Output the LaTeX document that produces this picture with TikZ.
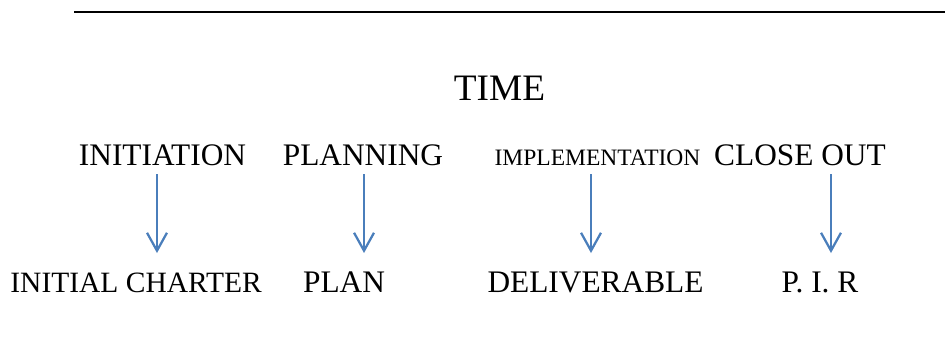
\documentclass[tikz,border=0pt]{standalone}
\usepackage{fontspec}
\setmainfont{Liberation Serif}
\usetikzlibrary{arrows.meta}
\definecolor{pfeilblau}{RGB}{74,126,187}
\tikzset{
	phase/.style={anchor=base, inner sep=0pt, font=\fontsize{23.6}{28}\selectfont},
	klein/.style={anchor=base, inner sep=0pt, font=\fontsize{17.7}{21}\selectfont},
	pfeil/.style={draw=pfeilblau, line width=1.7pt,
		-{Straight Barb[length=13.5pt, width=15pt, line width=1.7pt]}}
}
\begin{document}
\begin{tikzpicture}
	\useasboundingbox (0, 0) rectangle (25, 9.525);
	% Linie oben
	\coordinate (links) at (1.958, 9.206);
	\coordinate (rechts) at (25, 9.206);
	\draw[line width=1.8pt] (links) -- (rechts);
	% Titel
	\node[anchor=base, inner sep=0pt, font=\fontsize{28.1}{33}\selectfont] (time) at (13.214, 6.878) {TIME};
	% Phasen
	\node[phase] (initiation) at (4.299, 5.159) {INITIATION};
	\node[phase] (planning) at (9.603, 5.159) {PLANNING};
	\node[klein] (implementation) at (15.807, 5.159) {IMPLEMENTATION};
	\node[phase] (closeout) at (21.164, 5.159) {CLOSE OUT};
	% Ergebnisse
	\node[phase, anchor=base east, font=\fontsize{22.2}{27}\selectfont] (charter) at (6.931, 1.799) {INITIAL CHARTER};
	\node[phase] (plan) at (9.101, 1.799) {PLAN};
	\node[phase] (deliverable) at (15.754, 1.799) {DELIVERABLE};
	\node[phase] (pir) at (21.693, 1.799) {P. I. R};
	% Pfeile
	\foreach \x/\n in {4.153/1, 9.630/2, 15.635/3, 21.984/4} {
		\coordinate (oben\n) at (\x, 4.921);
		\coordinate (unten\n) at (\x, 2.831);
		\draw[pfeil] (oben\n) -- (unten\n);
	}
\end{tikzpicture}
\end{document}
